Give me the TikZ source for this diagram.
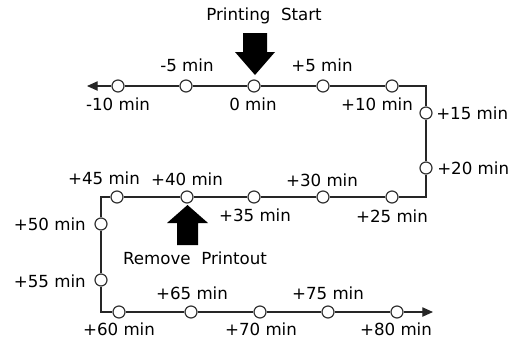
\documentclass[tikz,border=0pt]{standalone}
\usepackage{fontspec}
\setmainfont{DejaVu Sans}
\usetikzlibrary{arrows.meta}
\begin{document}
\begin{tikzpicture}[x=0.75pt,y=-0.75pt,
  dot/.style={circle,draw=black!80,fill=white,line width=0.9pt,minimum size=9pt,inner sep=0pt},
  lab/.style={inner sep=0pt,font=\fontsize{12.5}{14}\selectfont,text=black},
  track/.style={draw=black!85,line width=0.9pt},
  tipped/.style={track,-{Triangle[length=8pt,width=7pt]}},
  bigarrow/.style={fill=black}]
\useasboundingbox (0,0) rectangle (514,340);
% top row
\node[dot] (t1) at (118,86) {};
\node[dot] (t2) at (186,86) {};
\node[dot] (t3) at (254,86) {};
\node[dot] (t4) at (323,86) {};
\node[dot] (t5) at (392,86) {};
\coordinate (tipL) at (87,86);
\coordinate (c1) at (426,86);
% right column
\node[dot] (r1) at (426,113) {};
\node[dot] (r2) at (426,168) {};
\coordinate (c2) at (426,197);
% middle row
\node[dot] (m1) at (392,197) {};
\node[dot] (m2) at (323,197) {};
\node[dot] (m3) at (254,197) {};
\node[dot] (m4) at (187,197) {};
\node[dot] (m5) at (117,197) {};
\coordinate (c3) at (101,197);
% left column
\node[dot] (l1) at (101,224) {};
\node[dot] (l2) at (101,280) {};
\coordinate (c4) at (101,312);
% bottom row
\node[dot] (b1) at (119,312) {};
\node[dot] (b2) at (191,312) {};
\node[dot] (b3) at (260,312) {};
\node[dot] (b4) at (328,312) {};
\node[dot] (b5) at (397,312) {};
\coordinate (tipR) at (433,312);
% connectors
\draw[tipped] (t1) -- (tipL);
\draw[track] (t1) -- (t2);
\draw[track] (t2) -- (t3);
\draw[track] (t3) -- (t4);
\draw[track] (t4) -- (t5);
\draw[track] (t5) -- (c1) -- (r1);
\draw[track] (r1) -- (r2);
\draw[track] (r2) -- (c2) -- (m1);
\draw[track] (m1) -- (m2);
\draw[track] (m2) -- (m3);
\draw[track] (m3) -- (m4);
\draw[track] (m4) -- (m5);
\draw[track] (m5) -- (c3) -- (l1);
\draw[track] (l1) -- (l2);
\draw[track] (l2) -- (c4) -- (b1);
\draw[track] (b1) -- (b2);
\draw[track] (b2) -- (b3);
\draw[track] (b3) -- (b4);
\draw[track] (b4) -- (b5);
\draw[tipped] (b5) -- (tipR);
% big arrows
\fill[bigarrow] (243,33) -- (267,33) -- (267,52) -- (275,52) -- (255,75) -- (235,52) -- (243,52) -- cycle;
\fill[bigarrow] (177,245) -- (198,245) -- (198,223) -- (208,223) -- (187.5,205) -- (167,223) -- (177,223) -- cycle;
% labels
\node[lab] (ps) at (264,16) {Printing\ \ Start};
\node[lab] (rp) at (195,258) {Remove\ \ Printout};
\node[lab] (lm10) at (118,104) {-10 min};
\node[lab] (lm5) at (187,65) {-5 min};
\node[lab] (l0) at (253,104) {0 min};
\node[lab] (lp5) at (322,65) {+5 min};
\node[lab] (lp10) at (377,104) {+10 min};
\node[lab,anchor=west] (lp15) at (436,113) {+15 min};
\node[lab,anchor=west] (lp20) at (437,168) {+20 min};
\node[lab] (lp25) at (392,216) {+25 min};
\node[lab] (lp30) at (322,180) {+30 min};
\node[lab] (lp35) at (255,215) {+35 min};
\node[lab] (lp40) at (187,179) {+40 min};
\node[lab] (lp45) at (104,178) {+45 min};
\node[lab,anchor=east] (lp50) at (86,224) {+50 min};
\node[lab,anchor=east] (lp55) at (86,281) {+55 min};
\node[lab] (lp60) at (119,329) {+60 min};
\node[lab] (lp65) at (192,293) {+65 min};
\node[lab] (lp70) at (261,329) {+70 min};
\node[lab] (lp75) at (328,293) {+75 min};
\node[lab] (lp80) at (396,329) {+80 min};
\end{tikzpicture}
\end{document}
